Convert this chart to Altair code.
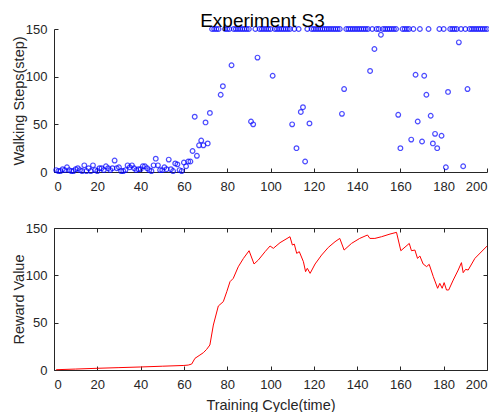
import altair as alt
import pandas as pd

# ---------------- data ----------------
cycles = list(range(1, 201))

steps_low = [2, 1, 1, 3, 2, 5, 2, 1, 1, 3,
             4, 2, 1, 7, 1, 4, 1, 7, 2, 1,
             4, 4, 2, 6, 4, 2, 4, 12, 4, 5,
             1, 1, 2, 7, 5, 7, 4, 2, 3, 3,
             6, 6, 4, 2, 1, 7, 14, 7, 2, 2,
             5, 3, 13, 3, 1, 9, 8, 2, 1, 10,
             6, 11, 11]
steps_high = ([22, 58, 17, 28, 33, 28, 52, 30, 62]
              + [150] * 4 + [81, 90] + [150] * 3 + [112] + [150] * 8
              + [53, 50, 150, 120] + [150] * 6 + [101] + [150] * 8
              + [50, 150, 25, 150, 63, 68, 11, 150, 51] + [150] * 14
              + [61, 87] + [150] * 11
              + [106, 150, 129, 150, 150, 144] + [150] * 7
              + [60, 25] + [150] * 4
              + [34, 150, 102, 53, 150, 32, 101, 81, 150, 59, 30, 40, 25, 150, 38, 150, 5, 84]
              + [150] * 4 + [136, 150, 6, 150, 87] + [150] * 9)
steps = steps_low + steps_high

reward_x = [1, 10, 20, 30, 40, 50, 60, 62,
            63.6, 65.1, 67.4, 69, 70.5, 72, 73.6, 75.9, 78.2, 79.8,
            81.3, 82.8, 85.1, 87.5, 90.1, 92.4, 94.4, 97.5, 99.8, 101.3,
            104.4, 109, 110.1, 111, 112.1, 113.3, 115.2, 116.2, 117, 118.3,
            120.6, 123.6, 126.7, 129.8, 132, 134, 137.4, 141.2, 144.8, 145.9,
            148.2, 151.3, 155.2, 158.2, 160.2, 164.1, 165.1, 166.7, 167.9, 169,
            170.5, 172.1, 173.3, 175.2, 177.2, 178.2, 179.3, 180.2, 181.3, 182.3,
            184.4, 186.7, 188.2, 189, 190.1, 191.3, 194.4, 200]
reward_y = [0.3, 1.0, 1.8, 2.5, 3.2, 4.0, 4.8, 5.2,
            6.3, 12.3, 15.8, 18.3, 21.8, 26.4, 47.5, 67.6, 72.2, 82.7,
            93.3, 96.8, 109, 117.9, 126, 112, 116.2, 125, 131, 128.5,
            134.5, 140.8, 132, 133, 123.2, 125, 114.4, 103.9, 107.4, 102.1,
            112, 121.4, 129.5, 135.5, 139, 126.7, 133.7, 139, 142.6, 139,
            139, 140.8, 143.6, 145.4, 126, 133.7, 126, 126.7, 117.9, 120.4,
            112, 109.2, 111.6, 98.6, 86.3, 91.5, 86.3, 92.3, 84.5, 84.5,
            95, 105.6, 113.4, 102.8, 106.3, 105.6, 117.9, 130.9]

x_ticks = list(range(0, 201, 20))
y_ticks = [0, 50, 100, 150]

steps_df = pd.DataFrame({"cycle": cycles, "steps": steps})
reward_df = pd.DataFrame({"cycle": reward_x, "reward": reward_y})

# ---------------- style ----------------
AX = "#262626"
FONT = "Liberation Sans"
W, H1, H2 = 433, 143, 142

xs = alt.Scale(domain=[0, 200], nice=False, zero=False)
ys = alt.Scale(domain=[0, 150], nice=False)


def lab_axis(orient, values, title=None):
    left = orient == "left"
    kw = dict(orient=orient, values=values, ticks=False, domain=True,
              domainColor=AX, domainWidth=1, labelColor=AX, labelFont=FONT,
              labelFontSize=13, labelPadding=7 if left else 8,
              grid=False, titleFont=FONT, titleFontSize=14.5,
              titleFontWeight="normal", titleColor=AX,
              titlePadding=-1 if left else 7)
    kw["title"] = title
    return alt.Axis(**kw)


def tick_axis(orient, offset, values, domain=False):
    return alt.Axis(orient=orient, offset=offset, values=values, labels=False,
                    domain=domain, domainColor=AX, domainWidth=1,
                    ticks=True, tickSize=4, tickColor=AX, tickWidth=1,
                    grid=False, title=None)


# ---------------- top panel ----------------
base_s = alt.Chart(steps_df)
pts = base_s.mark_point(filled=False, color="#0000FF", size=22, strokeWidth=1.2).encode(
    x=alt.X("cycle:Q", scale=xs, axis=lab_axis("bottom", x_ticks)),
    y=alt.Y("steps:Q", scale=ys, axis=lab_axis("left", y_ticks, "Walking Steps(step)")),
)
pts_ticks = base_s.mark_point(opacity=0).encode(
    x=alt.X("cycle:Q", scale=xs, axis=tick_axis("top", -H1, x_ticks)),
    y=alt.Y("steps:Q", scale=ys, axis=tick_axis("right", -W, y_ticks)),
)
top = alt.layer(pts, pts_ticks).resolve_axis(x="independent", y="independent").properties(
    width=W, height=H1,
    title=alt.TitleParams("Experiment S3", fontSize=19, fontWeight="normal", font=FONT,
                          color="black", anchor="middle", offset=-8, dx=-8),
)

# ---------------- bottom panel ----------------
base_r = alt.Chart(reward_df)
line = base_r.mark_line(color="#FF0000", strokeWidth=1).encode(
    x=alt.X("cycle:Q", scale=xs, axis=lab_axis("bottom", x_ticks, "Training Cycle(time)")),
    y=alt.Y("reward:Q", scale=ys, axis=lab_axis("left", y_ticks, "Reward Value")),
)
line_t1 = base_r.mark_line(opacity=0).encode(
    x=alt.X("cycle:Q", scale=xs, axis=tick_axis("top", -H2, x_ticks)),
    y=alt.Y("reward:Q", scale=ys, axis=tick_axis("right", -W, y_ticks)),
)
line_t2 = base_r.mark_line(opacity=0).encode(
    x=alt.X("cycle:Q", scale=xs, axis=tick_axis("bottom", -H2, x_ticks, domain=True)),
    y=alt.Y("reward:Q", scale=ys, axis=tick_axis("left", -W, y_ticks, domain=True)),
)
bottom = alt.layer(line, line_t1, line_t2).resolve_axis(x="independent", y="independent").properties(
    width=W, height=H2,
)

chart = alt.vconcat(top, bottom, spacing=29).properties(
    padding={"left": 3, "top": 4, "right": -3, "bottom": 0},
    background="white",
).configure_view(strokeWidth=0)

chart.save("out.html", embed_options={"renderer": "svg", "actions": False})
